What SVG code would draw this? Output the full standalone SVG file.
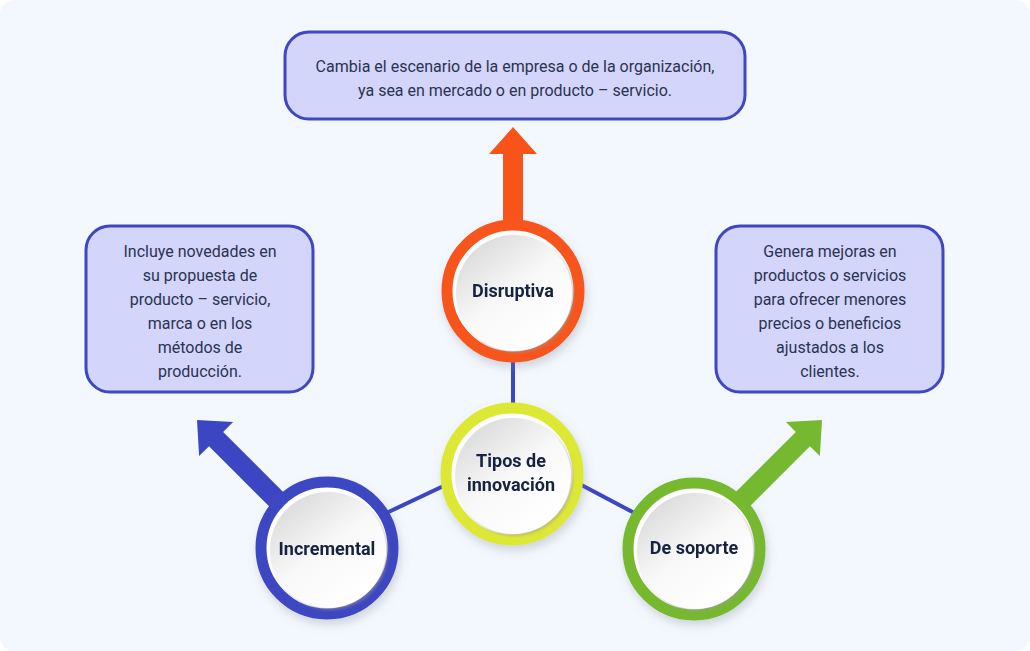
<svg xmlns="http://www.w3.org/2000/svg" width="1030" height="651" viewBox="0 0 1030 651">
<defs>
<style>
.box{fill:#d3d5fa;stroke:#3f48c0;stroke-width:3}
.bt{font-family:Roboto,"Liberation Sans",sans-serif;font-size:16px;fill:#2a3350;text-anchor:middle}
.ct{font-family:Roboto,"Liberation Sans",sans-serif;font-size:18px;font-weight:700;fill:#13243f;text-anchor:middle}
.con{stroke:#3d46c2;stroke-width:4;fill:none}
.disk{fill:url(#g)}
</style>
<linearGradient id="g" x1="0.15" y1="0.1" x2="0.75" y2="0.9">
<stop offset="0" stop-color="#dcdcdc"/>
<stop offset="0.5" stop-color="#f8f8f8"/>
<stop offset="1" stop-color="#ffffff"/>
</linearGradient>
<filter id="sh" x="-30%" y="-30%" width="160%" height="160%">
<feDropShadow dx="2" dy="5" stdDeviation="5" flood-color="#7a8090" flood-opacity="0.3"/>
</filter>
<filter id="ish" x="-20%" y="-20%" width="140%" height="140%">
<feDropShadow dx="2" dy="2" stdDeviation="1.5" flood-color="#999" flood-opacity="0.5"/>
</filter>
<polygon id="arr" points="0,0 24,27 10,27 10,140 -10,140 -10,27 -24,27"/>
</defs>
<rect width="1030" height="651" fill="#ffffff"/>
<rect width="1030" height="651" rx="14" fill="#f3f8fe"/>

<g id="connectors">
<line class="con" x1="513" y1="355" x2="513" y2="410"/>
<line class="con" x1="380" y1="516" x2="452" y2="482"/>
<line class="con" x1="572" y1="480" x2="642" y2="517"/>
<use href="#arr" fill="#f8541a" transform="translate(513,127)"/>
<use href="#arr" fill="#3d46c2" transform="translate(197,420) rotate(-45)"/>
<use href="#arr" fill="#76b82f" transform="translate(822,420) rotate(45)"/>
</g>

<g id="box-disruptiva">
<rect class="box" x="285" y="32" width="460" height="87" rx="24"/>
<text class="bt" x="515" y="72">Cambia el escenario de la empresa o de la organización,</text>
<text class="bt" x="515" y="96">ya sea en mercado o en producto – servicio.</text>
</g>

<g id="box-incremental">
<rect class="box" x="86" y="226" width="227" height="166" rx="24"/>
<text class="bt" x="200" y="257">Incluye novedades en</text>
<text class="bt" x="200" y="281">su propuesta de</text>
<text class="bt" x="200" y="305">producto – servicio,</text>
<text class="bt" x="200" y="329">marca o en los</text>
<text class="bt" x="200" y="353">métodos de</text>
<text class="bt" x="200" y="377">producción.</text>
</g>

<g id="box-soporte">
<rect class="box" x="716" y="226" width="227" height="166" rx="24"/>
<text class="bt" x="830" y="257">Genera mejoras en</text>
<text class="bt" x="830" y="281">productos o servicios</text>
<text class="bt" x="830" y="305">para ofrecer menores</text>
<text class="bt" x="830" y="329">precios o beneficios</text>
<text class="bt" x="830" y="353">ajustados a los</text>
<text class="bt" x="830" y="377">clientes.</text>
</g>

<g id="node-disruptiva" filter="url(#sh)">
<circle cx="513" cy="291" r="66" fill="#ffffff" stroke="#f8541a" stroke-width="11"/>
<circle class="disk" cx="514" cy="293" r="58" filter="url(#ish)"/>
<text class="ct" x="513" y="297">Disruptiva</text>
</g>

<g id="node-tipos" filter="url(#sh)">
<circle cx="512" cy="474" r="66" fill="#ffffff" stroke="#dde836" stroke-width="11"/>
<circle class="disk" cx="513" cy="476" r="58" filter="url(#ish)"/>
<text class="ct" x="511" y="467">Tipos de</text>
<text class="ct" x="511" y="491">innovación</text>
</g>

<g id="node-incremental" filter="url(#sh)">
<circle cx="327" cy="548" r="66" fill="#ffffff" stroke="#3d46c2" stroke-width="11"/>
<circle class="disk" cx="328" cy="550" r="58" filter="url(#ish)"/>
<text class="ct" x="327" y="555">Incremental</text>
</g>

<g id="node-soporte" filter="url(#sh)">
<circle cx="694" cy="549" r="66" fill="#ffffff" stroke="#76b82f" stroke-width="11"/>
<circle class="disk" cx="695" cy="551" r="58" filter="url(#ish)"/>
<text class="ct" x="694" y="554">De soporte</text>
</g>
</svg>
